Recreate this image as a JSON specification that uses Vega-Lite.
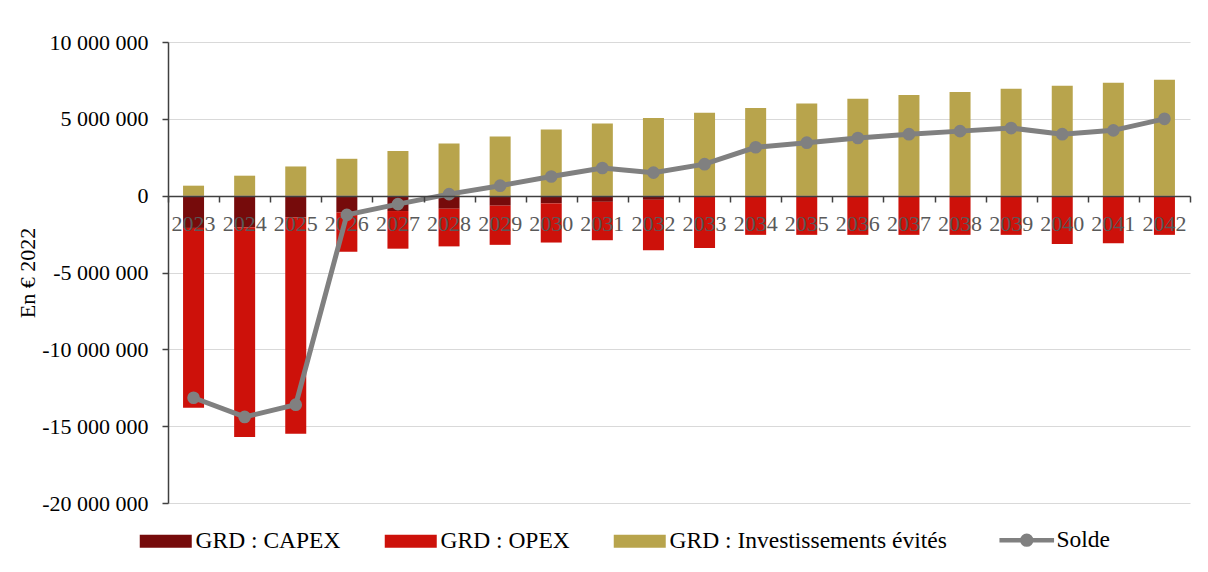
{
  "$schema": "https://vega.github.io/schema/vega-lite/v6.json",
  "width": 1022,
  "height": 461,
  "autosize": "none",
  "padding": {"left": 168, "top": 42, "right": 18, "bottom": 69},
  "config": {
    "view": {"stroke": null},
    "font": "Liberation Serif",
    "locale": {"number": {"decimal": ",", "thousands": " ", "grouping": [3], "currency": ["", " €"], "minus": "-"}},
    "axis": {"labelFont": "Liberation Serif", "titleFont": "Liberation Serif"},
    "legend": {"labelFont": "Liberation Serif"},
    "axisY": {
      "titleFontSize": 22,
      "titleFontWeight": "normal",
      "titleColor": "#000000",
      "titlePadding": 2,
      "labelFontSize": 22,
      "labelColor": "#000000",
      "labelPadding": 14,
      "tickSize": 6,
      "tickColor": "#404040",
      "tickWidth": 1.5,
      "domainColor": "#404040",
      "domainWidth": 1.5,
      "gridColor": "#d9d9d9",
      "gridWidth": 1.2
    }
  },
  "datasets": {
    "bars": [
      {"annee": "2023", "serie": "GRD : CAPEX", "ordre": 1, "valeur": -2100000},
      {"annee": "2023", "serie": "GRD : OPEX", "ordre": 2, "valeur": -11700000},
      {"annee": "2023", "serie": "GRD : Investissements évités", "ordre": 3, "valeur": 650000},
      {"annee": "2024", "serie": "GRD : CAPEX", "ordre": 1, "valeur": -2050000},
      {"annee": "2024", "serie": "GRD : OPEX", "ordre": 2, "valeur": -13650000},
      {"annee": "2024", "serie": "GRD : Investissements évités", "ordre": 3, "valeur": 1300000},
      {"annee": "2025", "serie": "GRD : CAPEX", "ordre": 1, "valeur": -1400000},
      {"annee": "2025", "serie": "GRD : OPEX", "ordre": 2, "valeur": -14100000},
      {"annee": "2025", "serie": "GRD : Investissements évités", "ordre": 3, "valeur": 1900000},
      {"annee": "2026", "serie": "GRD : CAPEX", "ordre": 1, "valeur": -1100000},
      {"annee": "2026", "serie": "GRD : OPEX", "ordre": 2, "valeur": -2550000},
      {"annee": "2026", "serie": "GRD : Investissements évités", "ordre": 3, "valeur": 2400000},
      {"annee": "2027", "serie": "GRD : CAPEX", "ordre": 1, "valeur": -1000000},
      {"annee": "2027", "serie": "GRD : OPEX", "ordre": 2, "valeur": -2450000},
      {"annee": "2027", "serie": "GRD : Investissements évités", "ordre": 3, "valeur": 2900000},
      {"annee": "2028", "serie": "GRD : CAPEX", "ordre": 1, "valeur": -850000},
      {"annee": "2028", "serie": "GRD : OPEX", "ordre": 2, "valeur": -2450000},
      {"annee": "2028", "serie": "GRD : Investissements évités", "ordre": 3, "valeur": 3400000},
      {"annee": "2029", "serie": "GRD : CAPEX", "ordre": 1, "valeur": -650000},
      {"annee": "2029", "serie": "GRD : OPEX", "ordre": 2, "valeur": -2550000},
      {"annee": "2029", "serie": "GRD : Investissements évités", "ordre": 3, "valeur": 3850000},
      {"annee": "2030", "serie": "GRD : CAPEX", "ordre": 1, "valeur": -500000},
      {"annee": "2030", "serie": "GRD : OPEX", "ordre": 2, "valeur": -2550000},
      {"annee": "2030", "serie": "GRD : Investissements évités", "ordre": 3, "valeur": 4300000},
      {"annee": "2031", "serie": "GRD : CAPEX", "ordre": 1, "valeur": -400000},
      {"annee": "2031", "serie": "GRD : OPEX", "ordre": 2, "valeur": -2500000},
      {"annee": "2031", "serie": "GRD : Investissements évités", "ordre": 3, "valeur": 4700000},
      {"annee": "2032", "serie": "GRD : CAPEX", "ordre": 1, "valeur": -270000},
      {"annee": "2032", "serie": "GRD : OPEX", "ordre": 2, "valeur": -3280000},
      {"annee": "2032", "serie": "GRD : Investissements évités", "ordre": 3, "valeur": 5050000},
      {"annee": "2033", "serie": "GRD : CAPEX", "ordre": 1, "valeur": -80000},
      {"annee": "2033", "serie": "GRD : OPEX", "ordre": 2, "valeur": -3320000},
      {"annee": "2033", "serie": "GRD : Investissements évités", "ordre": 3, "valeur": 5400000},
      {"annee": "2034", "serie": "GRD : CAPEX", "ordre": 1, "valeur": 0},
      {"annee": "2034", "serie": "GRD : OPEX", "ordre": 2, "valeur": -2550000},
      {"annee": "2034", "serie": "GRD : Investissements évités", "ordre": 3, "valeur": 5700000},
      {"annee": "2035", "serie": "GRD : CAPEX", "ordre": 1, "valeur": 0},
      {"annee": "2035", "serie": "GRD : OPEX", "ordre": 2, "valeur": -2550000},
      {"annee": "2035", "serie": "GRD : Investissements évités", "ordre": 3, "valeur": 6000000},
      {"annee": "2036", "serie": "GRD : CAPEX", "ordre": 1, "valeur": 0},
      {"annee": "2036", "serie": "GRD : OPEX", "ordre": 2, "valeur": -2550000},
      {"annee": "2036", "serie": "GRD : Investissements évités", "ordre": 3, "valeur": 6300000},
      {"annee": "2037", "serie": "GRD : CAPEX", "ordre": 1, "valeur": 0},
      {"annee": "2037", "serie": "GRD : OPEX", "ordre": 2, "valeur": -2550000},
      {"annee": "2037", "serie": "GRD : Investissements évités", "ordre": 3, "valeur": 6550000},
      {"annee": "2038", "serie": "GRD : CAPEX", "ordre": 1, "valeur": 0},
      {"annee": "2038", "serie": "GRD : OPEX", "ordre": 2, "valeur": -2550000},
      {"annee": "2038", "serie": "GRD : Investissements évités", "ordre": 3, "valeur": 6750000},
      {"annee": "2039", "serie": "GRD : CAPEX", "ordre": 1, "valeur": 0},
      {"annee": "2039", "serie": "GRD : OPEX", "ordre": 2, "valeur": -2550000},
      {"annee": "2039", "serie": "GRD : Investissements évités", "ordre": 3, "valeur": 6950000},
      {"annee": "2040", "serie": "GRD : CAPEX", "ordre": 1, "valeur": 0},
      {"annee": "2040", "serie": "GRD : OPEX", "ordre": 2, "valeur": -3150000},
      {"annee": "2040", "serie": "GRD : Investissements évités", "ordre": 3, "valeur": 7150000},
      {"annee": "2041", "serie": "GRD : CAPEX", "ordre": 1, "valeur": 0},
      {"annee": "2041", "serie": "GRD : OPEX", "ordre": 2, "valeur": -3100000},
      {"annee": "2041", "serie": "GRD : Investissements évités", "ordre": 3, "valeur": 7350000},
      {"annee": "2042", "serie": "GRD : CAPEX", "ordre": 1, "valeur": 0},
      {"annee": "2042", "serie": "GRD : OPEX", "ordre": 2, "valeur": -2550000},
      {"annee": "2042", "serie": "GRD : Investissements évités", "ordre": 3, "valeur": 7550000}
    ],
    "solde": [
      {"annee": "2023", "solde": -13150000},
      {"annee": "2024", "solde": -14400000},
      {"annee": "2025", "solde": -13600000},
      {"annee": "2026", "solde": -1250000},
      {"annee": "2027", "solde": -550000},
      {"annee": "2028", "solde": 100000},
      {"annee": "2029", "solde": 650000},
      {"annee": "2030", "solde": 1250000},
      {"annee": "2031", "solde": 1800000},
      {"annee": "2032", "solde": 1500000},
      {"annee": "2033", "solde": 2050000},
      {"annee": "2034", "solde": 3150000},
      {"annee": "2035", "solde": 3450000},
      {"annee": "2036", "solde": 3750000},
      {"annee": "2037", "solde": 4000000},
      {"annee": "2038", "solde": 4200000},
      {"annee": "2039", "solde": 4400000},
      {"annee": "2040", "solde": 4000000},
      {"annee": "2041", "solde": 4250000},
      {"annee": "2042", "solde": 5000000}
    ]
  },
  "encoding": {
    "x": {
      "field": "annee",
      "type": "ordinal",
      "scale": {"paddingInner": 0, "paddingOuter": 0},
      "axis": {
        "title": null,
        "labels": false,
        "domainColor": "#404040",
        "domainWidth": 1.5,
        "tickColor": "#404040",
        "tickWidth": 1.5,
        "tickBand": "extent",
        "tickSize": 6,
        "offset": -307,
        "zindex": 1
      }
    }
  },
  "layer": [
    {
      "data": {"name": "bars"},
      "mark": {"type": "bar", "size": 21},
      "encoding": {
        "y": {
          "field": "valeur",
          "type": "quantitative",
          "stack": "zero",
          "title": "En € 2022",
          "scale": {"domain": [-20000000, 10000000], "nice": false},
          "axis": {
            "values": [-20000000, -15000000, -10000000, -5000000, 0, 5000000, 10000000],
            "format": ",d",
            "labelFont": "Liberation Serif"
          }
        },
        "color": {
          "field": "serie",
          "type": "nominal",
          "scale": {
            "domain": ["GRD : CAPEX", "GRD : OPEX", "GRD : Investissements évités", "Solde"],
            "range": ["#760b0b", "#cd110a", "#b8a44c", "#808080"]
          },
          "legend": {
            "title": null,
            "orient": "none",
            "legendX": -14,
            "legendY": 486,
            "direction": "horizontal",
            "columns": 4,
            "columnPadding": 43,
            "labelFont": "Liberation Serif",
            "labelFontSize": 23.5,
            "labelColor": "#000000",
            "labelLimit": 400,
            "labelOffset": 18,
            "symbolSize": 2704,
            "symbolType": "M-1,-0.25H1V0.25H-1Z",
            "encode": {
              "symbols": {
                "update": {
                  "shape": {"signal": "datum.value === 'Solde' ? 'M-1.05,0H1.05M0.17,0A0.17,0.17,0,1,1,-0.17,0A0.17,0.17,0,1,1,0.17,0Z' : 'M-1,-0.25H1V0.25H-1Z'"},
                  "fill": {"scale": "color", "field": "value"},
                  "stroke": {"scale": "color", "field": "value"},
                  "strokeWidth": {"signal": "datum.value === 'Solde' ? 4.5 : 0"},
                  "opacity": {"value": 1}
                }
              }
            }
          }
        },
        "order": {"field": "ordre", "type": "quantitative"}
      }
    },
    {
      "data": {"name": "bars"},
      "transform": [{"filter": "datum.ordre === 3"}],
      "mark": {"type": "text", "font": "Liberation Serif", "fontSize": 22, "color": "#595959", "baseline": "middle", "dy": 28},
      "encoding": {
        "y": {"datum": 0, "type": "quantitative"},
        "text": {"field": "annee"}
      }
    },
    {
      "data": {"name": "solde"},
      "mark": {
        "type": "line",
        "strokeWidth": 5,
        "point": {"filled": true, "size": 160}
      },
      "encoding": {
        "y": {
          "field": "solde",
          "type": "quantitative",
          "title": "En € 2022",
          "axis": {
            "values": [-20000000, -15000000, -10000000, -5000000, 0, 5000000, 10000000],
            "format": ",d",
            "labelFont": "Liberation Serif"
          }
        },
        "color": {"datum": "Solde"}
      }
    }
  ]
}
